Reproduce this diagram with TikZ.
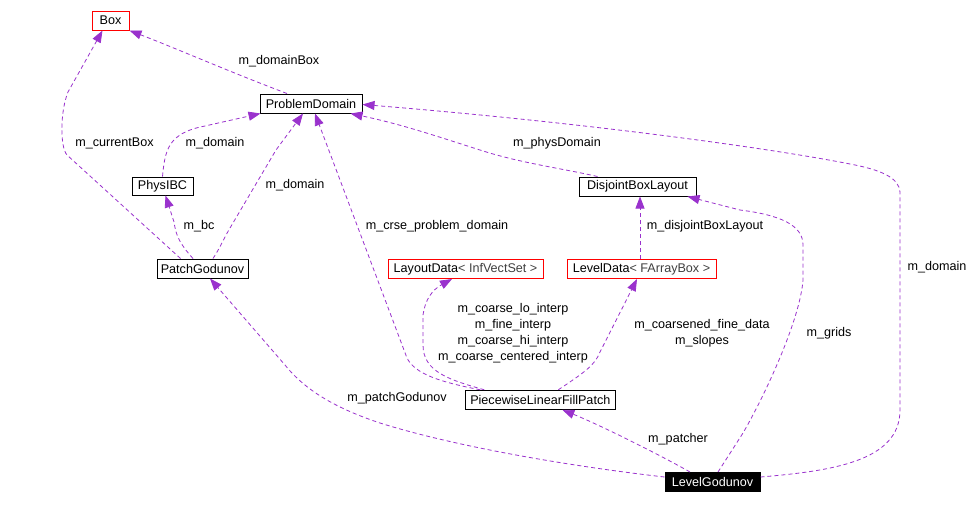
\documentclass[tikz,border=0pt]{standalone}
\usepackage{fontspec}
\setmainfont{Liberation Sans}
\usetikzlibrary{arrows.meta}
\definecolor{edgec}{RGB}{154,50,205}
\definecolor{subt}{RGB}{64,64,64}
\begin{document}
\begin{tikzpicture}[x=1pt,y=-1pt,
  font=\fontsize{12.6}{16}\selectfont,
  cls/.style={draw=black, line width=1pt, minimum height=19pt, inner sep=0pt, anchor=center},
  tmpl/.style={cls, draw=red},
  lbl/.style={inner sep=0pt, align=center, anchor=center},
  dep/.style={draw=edgec, line width=0.8pt, dash pattern=on 4pt off 3pt, -{Triangle[length=12pt,width=9pt]}}
]
\useasboundingbox (0,0) rectangle (973,504);
\fill[white] (0,0) rectangle (973,504);

% nodes
\node[tmpl, minimum width=37pt] (box) at (110.5,20.5) {Box};
\node[cls, minimum width=102pt] (pd) at (311,103.5) {ProblemDomain};
\node[cls, minimum width=61pt, minimum height=18pt] (phys) at (162.5,186) {PhysIBC};
\node[cls, minimum width=91pt] (pg) at (202.5,268.5) {PatchGodunov};
\node[tmpl, minimum width=155pt] (layd) at (465.5,269) {LayoutData\textcolor{subt}{< InfVectSet >}};
\node[tmpl, minimum width=149pt] (levd) at (641.5,269) {LevelData\textcolor{subt}{< FArrayBox >}};
\node[cls, minimum width=117pt] (dbl) at (637.5,186.5) {DisjointBoxLayout};
\node[cls, minimum width=150pt] (plfp) at (540.3,399.8) {PiecewiseLinearFillPatch};
\node[cls, fill=black, text=white, minimum width=95pt] (lg) at (712.5,482) {LevelGodunov};

% edges
\draw[dep] ([xshift=-24pt]pd.north) .. controls (230,72) and (180,50) .. (box.south east);
\draw[dep] ([xshift=-22pt]pg.north) -- (67,155) .. controls (60,147) and (60,112) .. (68,92) -- ([xshift=-8pt]box.south);
\draw[dep] (phys.north) .. controls (165,150) and (168,133) .. (205,126) -- ([xshift=1pt]pd.south west);
\draw[dep] ([xshift=10.5pt]pg.north) .. controls (220,248) and (224,238) .. (230,228) -- (276,150) -- ([xshift=-8pt]pd.south);
\draw[dep] ([xshift=-9.5pt]pg.north) .. controls (180,244) and (176,236) .. (174,222) -- ([xshift=3pt]phys.south);
\draw[dep] ([xshift=-60pt]plfp.north) .. controls (440,382) and (415,374) .. (407,358) -- ([xshift=4pt]pd.south);
\draw[dep] ([xshift=-40pt]dbl.north) .. controls (560,168) and (520,163) .. (480,150) .. controls (430,134) and (400,124) .. ([xshift=-12pt]pd.south east);
\draw[dep] ([yshift=5pt]lg.east) .. controls (830,471) and (900,462) .. (900,410) -- (900,192) .. controls (899,178) and (882,170) .. (850,164) .. controls (780,150) and (600,124) .. ([yshift=-1pt]pd.east);
\draw[dep] ([xshift=5.5pt]lg.north) -- (743,433) .. controls (765,395) and (800,320) .. (803,280) -- (803,245) .. controls (803,225) and (780,215) .. (740,210) -- ([xshift=-9pt]dbl.south east);
\draw[dep] ([xshift=-1.5pt]levd.north) -- ([xshift=-1.5pt]levd.north |- dbl.south);
\draw[dep] ([xshift=-56pt]plfp.north) .. controls (450,380) and (423,372) .. (423,345) -- (423,315) .. controls (425,300) and (432,290) .. ([xshift=-13.5pt]layd.south);
\draw[dep] ([xshift=18pt]plfp.north) .. controls (585,372) and (595,365) .. (600,352) -- ([xshift=-4.5pt]levd.south);
\draw[dep] ([xshift=-22.5pt]lg.north) .. controls (660,455) and (600,425) .. ([xshift=22pt]plfp.south);
\draw[dep] ([yshift=5pt]lg.west) .. controls (560,465) and (450,445) .. (380,423) .. controls (335,408) and (305,390) .. (285,365) -- ([xshift=7.5pt]pg.south);

% labels
\node[lbl] (l1) at (279,61) {m\_domainBox};
\node[lbl] (l2) at (114.5,143) {m\_currentBox};
\node[lbl] (l3) at (215,143) {m\_domain};
\node[lbl] (l4) at (295,185) {m\_domain};
\node[lbl] (l5) at (199,226) {m\_bc};
\node[lbl] (l6) at (437,226) {m\_crse\_problem\_domain};
\node[lbl] (l7) at (557,143) {m\_physDomain};
\node[lbl] (l8) at (705,226) {m\_disjointBoxLayout};
\node[lbl] (l9) at (937,267) {m\_domain};
\node[lbl] (l10) at (513,333) {m\_coarse\_lo\_interp\\m\_fine\_interp\\m\_coarse\_hi\_interp\\m\_coarse\_centered\_interp};
\node[lbl] (l11) at (702,333) {m\_coarsened\_fine\_data\\m\_slopes};
\node[lbl] (l12) at (829,333) {m\_grids};
\node[lbl] (l13) at (397,398) {m\_patchGodunov};
\node[lbl] (l14) at (678,439) {m\_patcher};
\end{tikzpicture}
\end{document}
